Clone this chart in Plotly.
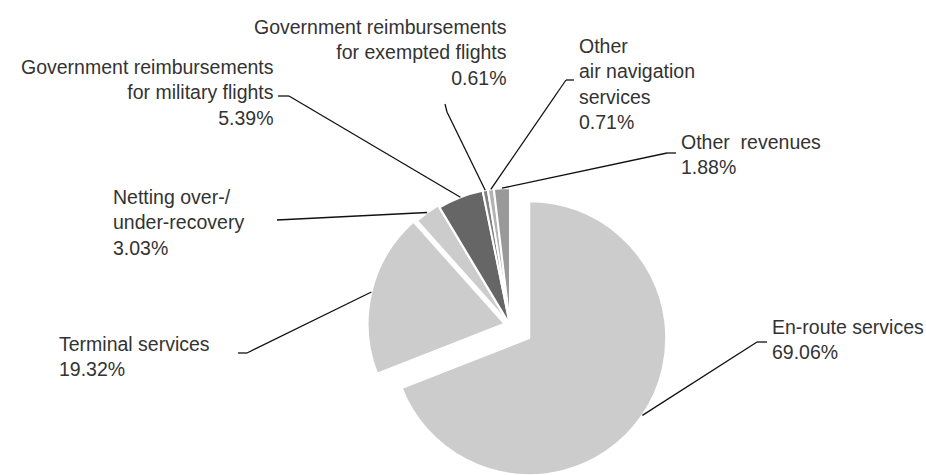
import math
import plotly.graph_objects as go

# ---- data ----
categories = ["En-route services", "Terminal services", "Netting over-/under-recovery",
              "Government reimbursements for military flights",
              "Government reimbursements for exempted flights",
              "Other air navigation services", "Other revenues"]
label_lines = ["En-route services", "Terminal services", "Netting over-/<br>under-recovery",
               "Government reimbursements<br>for military flights",
               "Government reimbursements<br>for exempted flights",
               "Other<br>air navigation<br>services", "Other\u00a0 revenues"]
shares = [69.06, 19.32, 3.03, 5.39, 0.61, 0.71, 1.88]

# ---- styles ----
colors = ["#cccccc", "#cccccc", "#cccccc", "#666666", "#808080", "#b3b3b3", "#999999"]
pulls = [0.17, 0.04, 0.02, 0, 0, 0, 0]

W, H = 926, 488
CX, CY, R = 510, 325, 137
half = R * (1 + max(pulls))

fig = go.Figure(go.Pie(
    labels=categories, values=shares, sort=False, direction="clockwise", rotation=0,
    marker=dict(colors=colors, line=dict(color="white", width=2)),
    pull=pulls, textinfo="none", hoverinfo="label+percent", showlegend=False,
    domain=dict(x=[(CX - half) / W, (CX + half) / W], y=[1 - (CY + half) / H, 1 - (CY - half) / H]),
))

def px(x, y):
    return x / W, 1 - y / H

total = sum(shares)
def anchor(i):
    start = sum(shares[:i]) / total * 360
    mid = math.radians(start + shares[i] / total * 180)
    p = pulls[i] * R
    cx = CX + p * math.sin(mid)
    cy = CY - p * math.cos(mid)
    return cx + R * math.sin(mid), cy - R * math.cos(mid)

# label placement (pixel positions): x, y-centre, anchor side, leader elbows
layout_spec = {
    0: dict(x=770, y=339, side="left", elbow=[(767, 342), (757, 342)]),
    1: dict(x=57, y=356, side="left", elbow=[(238, 353), (247, 353)]),
    2: dict(x=111, y=222, side="left", elbow=[(277, 220)]),
    3: dict(x=276, y=92, side="right", elbow=[(278, 96), (289, 96)]),
    4: dict(x=509, y=53, side="right", elbow=[(445, 104), (447, 112)]),
    5: dict(x=577, y=84, side="left", elbow=[(574, 80), (566, 80)]),
    6: dict(x=679, y=154, side="left", elbow=[(676, 153), (667, 153)]),
}

annotations = []
shapes = []
for i, spec in layout_spec.items():
    ax, ay = px(spec["x"], spec["y"])
    annotations.append(dict(
        x=ax, y=ay, xref="paper", yref="paper", showarrow=False,
        xanchor=spec["side"], yanchor="middle", align=spec["side"],
        text=f"{label_lines[i]}<br>{shares[i]:.2f}%",
        font=dict(family="Liberation Sans", size=19.5, color="#333333"),
    ))
    pts = spec["elbow"] + [anchor(i)]
    for (x0, y0), (x1, y1) in zip(pts[:-1], pts[1:]):
        a0, b0 = px(x0, y0)
        a1, b1 = px(x1, y1)
        shapes.append(dict(type="line", xref="paper", yref="paper", x0=a0, y0=b0, x1=a1, y1=b1,
                           line=dict(color="#111111", width=1.3)))

fig.update_layout(
    width=W, height=H, margin=dict(l=0, r=0, t=0, b=0),
    paper_bgcolor="white", plot_bgcolor="white",
    annotations=annotations, shapes=shapes,
)

fig.write_html("out.html")
